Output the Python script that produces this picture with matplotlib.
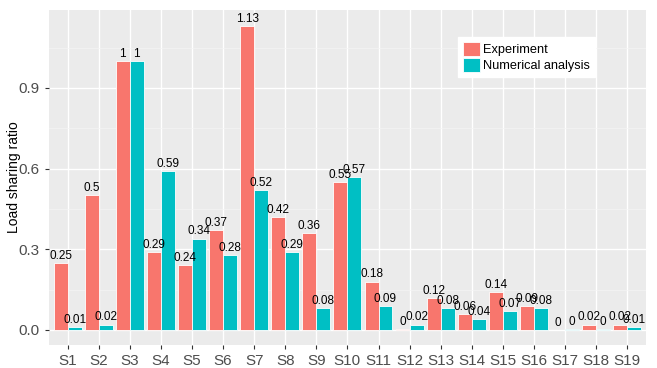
import numpy as np
import matplotlib
matplotlib.use("Agg")
import matplotlib.pyplot as plt
from matplotlib.ticker import MultipleLocator

plt.rcParams['font.family'] = ['Liberation Sans', 'DejaVu Sans']

# data
cats = ["S%d" % i for i in range(1, 20)]
experiment = [0.25, 0.5, 1.0, 0.29, 0.24, 0.37, 1.13, 0.42, 0.36, 0.55,
              0.18, 0.004, 0.12, 0.06, 0.14, 0.09, 0.0, 0.02, 0.02]
numerical = [0.01, 0.02, 1.0, 0.59, 0.34, 0.28, 0.52, 0.29, 0.08, 0.57,
             0.09, 0.02, 0.08, 0.04, 0.07, 0.08, 0.002, 0.004, 0.01]

red = "#F8766D"
cyan = "#00BFC4"

fig = plt.figure(figsize=(6.57, 3.68), dpi=100)
ax = fig.add_axes([0.0746, 0.0625, 0.9084, 0.9105])
ax.set_facecolor("#EBEBEB")

x = np.arange(1, len(cats) + 1)
w = 0.45
ax.bar(x - w / 2, experiment, w, color=red, edgecolor="white", linewidth=0.6,
       label="Experiment", zorder=3)
ax.bar(x + w / 2, numerical, w, color=cyan, edgecolor="white", linewidth=0.6,
       label="Numerical analysis", zorder=3)

def lab(v):
    s = "%.2f" % round(v, 2)
    s = s.rstrip("0").rstrip(".")
    return s if s else "0"

for xi, v in zip(x - w / 2, experiment):
    ax.text(xi, v + 0.004, lab(v), ha="center", va="bottom", fontsize=8.5, zorder=4)
for xi, v in zip(x + w / 2, numerical):
    ax.text(xi, v + 0.004, lab(v), ha="center", va="bottom", fontsize=8.5, zorder=4)

ax.set_xlim(0.4, 19.6)
ax.set_ylim(-0.056, 1.19)
ax.set_xticks(x)
ax.set_xticklabels(cats)
ax.yaxis.set_minor_locator(MultipleLocator(0.15))
ax.set_yticks([0, 0.3, 0.6, 0.9])
ax.set_yticklabels(["0.0", "0.3", "0.6", "0.9"])

ax.grid(which="major", color="white", linewidth=1.0, zorder=0)
ax.grid(which="minor", axis="y", color="#F5F5F5", linewidth=0.5, zorder=0)
ax.set_axisbelow(True)
for sp in ax.spines.values():
    sp.set_visible(False)
ax.tick_params(which="major", length=3, color="#333333", labelcolor="#4D4D4D",
               labelsize=11)
ax.tick_params(which="minor", length=0)
ax.set_ylabel("Load sharing ratio", fontsize=10)
ax.yaxis.set_label_coords(-0.047, 0.5)

leg = ax.legend(loc="upper left", bbox_to_anchor=(0.685, 0.92), frameon=True,
                fancybox=False, framealpha=1, edgecolor="white", fontsize=9.2,
                handlelength=1.3, handleheight=1.3, handletextpad=0.3,
                labelspacing=0.15, borderpad=0.4, borderaxespad=0)

fig.savefig("out.png", dpi=100)
